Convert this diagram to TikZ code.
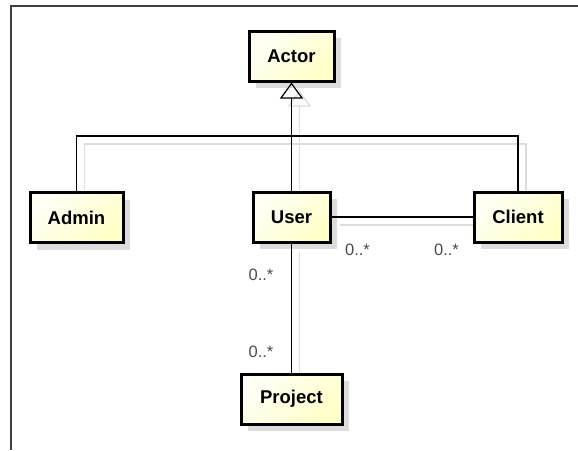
\documentclass[tikz,border=0pt]{standalone}
\usepackage{fontspec}
\setmainfont{Liberation Sans}
\usetikzlibrary{arrows.meta,shadows}
\definecolor{boxlight}{HTML}{FFFFF6}
\definecolor{boxdark}{HTML}{FFFFC8}
\definecolor{shadowgray}{HTML}{DCDCDC}
\definecolor{framegray}{HTML}{404040}
\definecolor{labelgray}{HTML}{4A4A4A}
\tikzset{
  classbox/.style={draw=black, line width=3pt, minimum height=50pt,
    top color=boxlight, bottom color=boxdark, shading angle=45,
    general shadow={fill=shadowgray, shadow xshift=7pt, shadow yshift=-7pt},
    font=\fontsize{18.5}{22}\selectfont\bfseries, inner sep=0pt},
  link/.style={draw=black, line width=1.2pt},
  linkshadow/.style={draw=shadowgray, line width=1.2pt},
  mult/.style={font=\fontsize{16.5}{20}\selectfont, text=labelgray, anchor=base, inner sep=0pt},
  gentip/.style={-{Triangle[open, width=23pt, length=16pt, line width=1.2pt]}}
}
\begin{document}
\begin{tikzpicture}[x=1pt, y=-1pt]
  \useasboundingbox (0,0) rectangle (578,450);
  % frame
  \draw[framegray, line width=1.5pt] (11,450) -- (11,6) -- (578,6);

  % classes
  \node[classbox, minimum width=85pt]  (actor)   at (291.5,56)   {Actor};
  \node[classbox, minimum width=93pt]  (admin)   at (76.5,217.5) {Admin};
  \node[classbox, minimum width=77pt]  (user)    at (291.5,217)  {User};
  \node[classbox, minimum width=88pt]  (client)  at (518,217)    {Client};
  \node[classbox, minimum width=101pt] (project) at (291.5,399)  {Project};

  % junction of the generalization tree
  \coordinate (split) at (291.5,136);

  % connector shadows
  \begin{scope}[transform canvas={xshift=8pt, yshift=-8pt}]
    \draw[linkshadow] (admin.north) |- (split);
    \draw[linkshadow] (client.north) |- (split);
    \draw[linkshadow, gentip] (user.north) -- (actor.south);
    \draw[linkshadow] (user.east) -- (client.west);
    \draw[linkshadow] (user.south) -- (project.north);
  \end{scope}

  % redraw class boxes above the shadow lines
  \node[classbox, minimum width=85pt]  at (actor)   {Actor};
  \node[classbox, minimum width=93pt]  at (admin)   {Admin};
  \node[classbox, minimum width=77pt]  at (user)    {User};
  \node[classbox, minimum width=88pt]  at (client)  {Client};
  \node[classbox, minimum width=101pt] at (project) {Project};

  % generalization
  \draw[link] (admin.north) |- (split);
  \draw[link] (client.north) |- (split);
  \draw[link, gentip] (user.north) -- (actor.south);

  % associations
  \draw[link] (user.east) -- (client.west);
  \draw[link] (user.south) -- (project.north);

  % multiplicities
  \node[mult] (m1) at (357.5,255) {0..*};
  \node[mult] (m2) at (446.5,255) {0..*};
  \node[mult] (m3) at (261,280)   {0..*};
  \node[mult] (m4) at (261,357)   {0..*};
\end{tikzpicture}
\end{document}
